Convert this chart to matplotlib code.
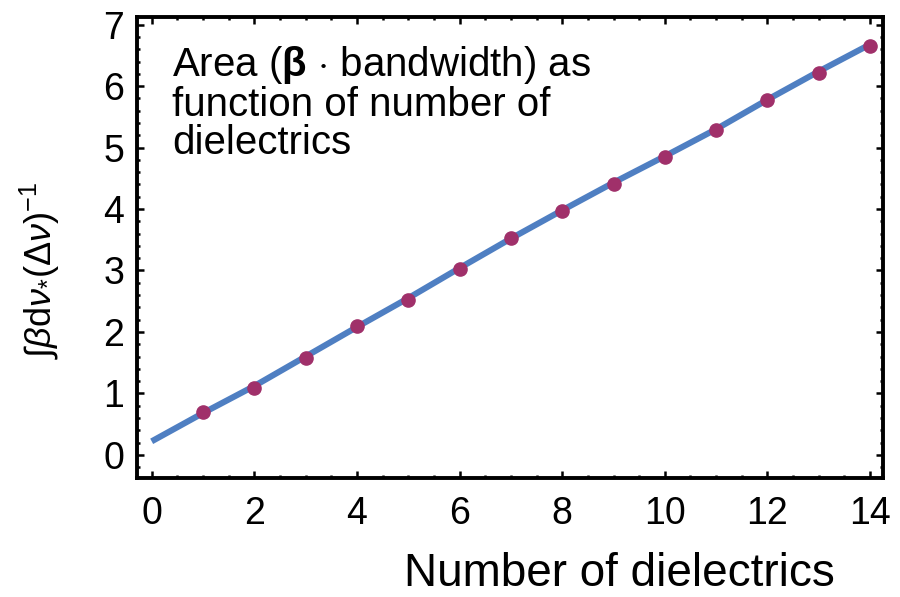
import numpy as np
import matplotlib.pyplot as plt
from matplotlib.ticker import MultipleLocator

# data
n_dielectrics = [1, 2, 3, 4, 5, 6, 7, 8, 9, 10, 11, 12, 13, 14]
area_points = [0.70, 1.09, 1.58, 2.10, 2.52, 3.03, 3.53, 3.97, 4.41, 4.84, 5.28, 5.77, 6.22, 6.66]

fit_x = [0, 1, 2, 3, 4, 5, 6, 7, 8, 9, 10, 11, 12, 13, 14]
fit_y = [0.22, 0.68, 1.12, 1.60, 2.08, 2.55, 3.04, 3.52, 3.98, 4.43, 4.86, 5.30, 5.78, 6.24, 6.68]

x_ticks = [0, 2, 4, 6, 8, 10, 12, 14]
y_ticks = [0, 1, 2, 3, 4, 5, 6, 7]

plt.rcParams['font.family'] = ['Liberation Sans', 'DejaVu Sans']
plt.rcParams['mathtext.fontset'] = 'custom'
plt.rcParams['mathtext.rm'] = 'Liberation Sans'
plt.rcParams['mathtext.it'] = 'Liberation Sans:italic'
plt.rcParams['mathtext.bf'] = 'Liberation Sans:bold'

fig = plt.figure(figsize=(9, 5.97), dpi=100)
ax = fig.add_axes([0.152, 0.199, 0.829, 0.773])

ax.plot(fit_x, fit_y, color='#4f7fc2', lw=4.4, solid_capstyle='butt', zorder=2)
ax.plot(n_dielectrics, area_points, 'o', color='#a0306a', ms=9.5, zorder=3)

ax.set_xlim(-0.29, 14.25)
ax.set_ylim(-0.38, 7.13)
ax.set_xticks(x_ticks)
ax.set_yticks(y_ticks)
ax.xaxis.set_minor_locator(MultipleLocator(0.5))
ax.yaxis.set_minor_locator(MultipleLocator(0.2))

for s in ax.spines.values():
    s.set_linewidth(2.8)
ax.tick_params(which='both', direction='in', top=True, right=True, width=1.8, labelsize=27)
ax.tick_params(which='major', length=5)
ax.tick_params(which='minor', length=2.5)
ax.tick_params(axis='x', pad=13)
ax.tick_params(axis='y', pad=9)

ax.set_xlabel('Number of dielectrics', fontsize=33, ha='right')
ax.xaxis.set_label_coords(0.936, -0.16)

ax.set_ylabel(r'$\int\beta\mathrm{d}\nu_{*}(\Delta\nu)^{-1}$', fontsize=26)
ax.yaxis.set_label_coords(-0.1, 0.45)

ax.text(0.047, 0.94,
        'Area ($\\mathbf{\\beta}$ $\\cdot$ bandwidth) as\nfunction of number of\ndielectrics',
        transform=ax.transAxes, fontsize=29, va='top', ha='left', linespacing=1.0)

plt.savefig('out.png', dpi=100)
